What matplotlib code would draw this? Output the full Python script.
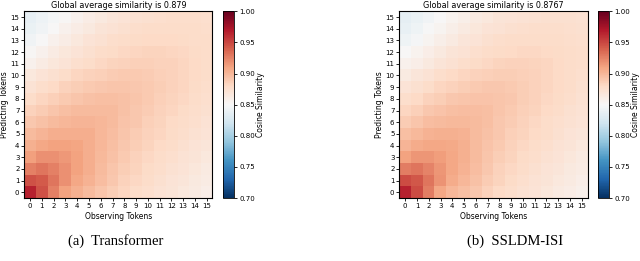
import numpy as np
import matplotlib.pyplot as plt

# token indices
tokens = list(range(16))

# similarity matrices, rows = predicting token (0..15), cols = observing token (0..15)
sim_transformer = np.array([
    [0.965, 0.945, 0.925, 0.910, 0.903, 0.897, 0.892, 0.887, 0.882, 0.878, 0.875, 0.872, 0.869, 0.866, 0.863, 0.860],
    [0.945, 0.942, 0.930, 0.918, 0.908, 0.902, 0.896, 0.890, 0.885, 0.881, 0.877, 0.874, 0.871, 0.868, 0.865, 0.862],
    [0.925, 0.930, 0.925, 0.918, 0.910, 0.904, 0.898, 0.892, 0.887, 0.883, 0.879, 0.876, 0.873, 0.870, 0.867, 0.864],
    [0.912, 0.918, 0.918, 0.915, 0.910, 0.905, 0.899, 0.894, 0.889, 0.885, 0.881, 0.878, 0.875, 0.872, 0.869, 0.866],
    [0.903, 0.908, 0.910, 0.910, 0.909, 0.905, 0.900, 0.895, 0.891, 0.887, 0.883, 0.880, 0.877, 0.874, 0.871, 0.868],
    [0.897, 0.901, 0.904, 0.905, 0.905, 0.904, 0.900, 0.896, 0.892, 0.888, 0.885, 0.882, 0.879, 0.876, 0.873, 0.870],
    [0.890, 0.894, 0.898, 0.900, 0.901, 0.901, 0.900, 0.897, 0.893, 0.890, 0.886, 0.883, 0.880, 0.877, 0.875, 0.872],
    [0.884, 0.888, 0.892, 0.895, 0.897, 0.898, 0.898, 0.897, 0.894, 0.891, 0.888, 0.885, 0.882, 0.879, 0.876, 0.874],
    [0.878, 0.882, 0.886, 0.889, 0.892, 0.894, 0.895, 0.895, 0.894, 0.892, 0.889, 0.886, 0.883, 0.881, 0.878, 0.875],
    [0.872, 0.876, 0.880, 0.884, 0.887, 0.889, 0.891, 0.892, 0.892, 0.891, 0.889, 0.887, 0.884, 0.882, 0.879, 0.876],
    [0.866, 0.870, 0.874, 0.878, 0.882, 0.884, 0.886, 0.888, 0.889, 0.889, 0.888, 0.886, 0.884, 0.882, 0.880, 0.877],
    [0.857, 0.862, 0.867, 0.871, 0.875, 0.878, 0.881, 0.883, 0.885, 0.886, 0.886, 0.885, 0.884, 0.882, 0.880, 0.878],
    [0.852, 0.857, 0.862, 0.867, 0.871, 0.874, 0.877, 0.879, 0.881, 0.882, 0.883, 0.883, 0.882, 0.881, 0.879, 0.878],
    [0.845, 0.850, 0.856, 0.861, 0.866, 0.870, 0.873, 0.876, 0.878, 0.879, 0.880, 0.880, 0.880, 0.879, 0.878, 0.877],
    [0.840, 0.845, 0.851, 0.856, 0.861, 0.865, 0.869, 0.872, 0.874, 0.876, 0.877, 0.878, 0.878, 0.878, 0.877, 0.876],
    [0.838, 0.842, 0.847, 0.852, 0.857, 0.861, 0.865, 0.868, 0.871, 0.873, 0.874, 0.875, 0.876, 0.876, 0.876, 0.875],
])

sim_ssldm = np.array([
    [0.965, 0.948, 0.927, 0.908, 0.900, 0.895, 0.890, 0.885, 0.880, 0.876, 0.873, 0.870, 0.867, 0.864, 0.861, 0.858],
    [0.948, 0.943, 0.930, 0.917, 0.906, 0.900, 0.894, 0.888, 0.883, 0.879, 0.875, 0.872, 0.869, 0.866, 0.863, 0.860],
    [0.927, 0.930, 0.924, 0.916, 0.908, 0.902, 0.896, 0.890, 0.885, 0.881, 0.877, 0.874, 0.871, 0.868, 0.865, 0.862],
    [0.910, 0.916, 0.916, 0.913, 0.908, 0.903, 0.897, 0.892, 0.887, 0.883, 0.879, 0.876, 0.873, 0.870, 0.867, 0.864],
    [0.901, 0.906, 0.908, 0.908, 0.907, 0.903, 0.898, 0.893, 0.889, 0.885, 0.881, 0.878, 0.875, 0.872, 0.869, 0.866],
    [0.895, 0.899, 0.902, 0.903, 0.903, 0.902, 0.898, 0.894, 0.890, 0.886, 0.883, 0.880, 0.877, 0.874, 0.871, 0.868],
    [0.888, 0.892, 0.896, 0.898, 0.899, 0.899, 0.898, 0.895, 0.891, 0.888, 0.884, 0.881, 0.878, 0.875, 0.873, 0.870],
    [0.882, 0.886, 0.890, 0.893, 0.895, 0.896, 0.896, 0.895, 0.892, 0.889, 0.886, 0.883, 0.880, 0.877, 0.874, 0.872],
    [0.876, 0.880, 0.884, 0.887, 0.890, 0.892, 0.893, 0.893, 0.892, 0.890, 0.887, 0.884, 0.881, 0.879, 0.876, 0.873],
    [0.870, 0.874, 0.878, 0.882, 0.885, 0.887, 0.889, 0.890, 0.890, 0.889, 0.887, 0.885, 0.882, 0.880, 0.877, 0.874],
    [0.864, 0.868, 0.872, 0.876, 0.880, 0.882, 0.884, 0.886, 0.887, 0.887, 0.886, 0.884, 0.882, 0.880, 0.878, 0.875],
    [0.856, 0.860, 0.865, 0.869, 0.873, 0.876, 0.879, 0.881, 0.883, 0.884, 0.884, 0.883, 0.882, 0.880, 0.878, 0.876],
    [0.850, 0.855, 0.860, 0.865, 0.869, 0.872, 0.875, 0.877, 0.879, 0.880, 0.881, 0.881, 0.880, 0.879, 0.877, 0.876],
    [0.844, 0.848, 0.854, 0.859, 0.864, 0.868, 0.871, 0.874, 0.876, 0.877, 0.878, 0.878, 0.878, 0.877, 0.876, 0.875],
    [0.839, 0.843, 0.849, 0.854, 0.859, 0.863, 0.867, 0.870, 0.872, 0.874, 0.875, 0.876, 0.876, 0.876, 0.875, 0.874],
    [0.837, 0.840, 0.845, 0.850, 0.855, 0.859, 0.863, 0.866, 0.869, 0.871, 0.872, 0.873, 0.874, 0.874, 0.874, 0.873],
])

titles = ["Global average similarity is 0.879", "Global average similarity is 0.8767"]
captions = ["(a)  Transformer", "(b)  SSLDM-ISI"]
cbar_ticks = [0.70, 0.75, 0.80, 0.85, 0.90, 0.95, 1.00]

fig = plt.figure(figsize=(6.4, 2.61), dpi=100)

panels = [
    (sim_transformer, 0.038, 0.349, 0.18),
    (sim_ssldm, 0.624, 0.935, 0.805),
]

for k, (mat, ax_left, cb_left, cap_x) in enumerate(panels):
    ax = fig.add_axes([ax_left, 0.241, 0.294, 0.716])
    im = ax.imshow(mat, cmap="RdBu_r", vmin=0.7, vmax=1.0, origin="lower",
                   aspect="auto", interpolation="nearest")
    ax.set_xticks(tokens)
    ax.set_yticks(tokens)
    ax.set_xticklabels(tokens)
    ax.set_yticklabels(tokens)
    ax.tick_params(labelsize=5, length=2, width=0.6, pad=1.5)
    ax.set_xlabel("Observing Tokens", fontsize=5.5, labelpad=2)
    ax.set_ylabel("Predicting Tokens", fontsize=5.5, labelpad=1)
    ax.set_title(titles[k], fontsize=5.8, pad=2)

    cax = fig.add_axes([cb_left, 0.241, 0.017, 0.716])
    cb = fig.colorbar(im, cax=cax, ticks=cbar_ticks)
    cb.ax.set_yticklabels([f"{t:.2f}" for t in cbar_ticks])
    cb.ax.tick_params(labelsize=5, length=2, width=0.6, pad=1.5)
    cb.set_label("Cosine Similarity", fontsize=5.5, labelpad=1)
    cb.outline.set_linewidth(0.6)

    fig.text(cap_x, 0.075, captions[k], ha="center", va="center",
             fontsize=10.5, family="Liberation Serif")

fig.savefig("out.png", dpi=100)
